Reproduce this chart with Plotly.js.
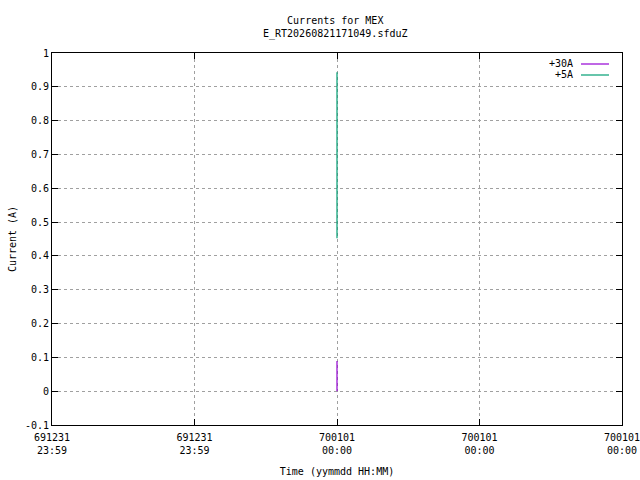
<!DOCTYPE html>
<html><head><meta charset="utf-8">
<script src="https://cdn.plot.ly/plotly-3.0.1.min.js"></script>
<style>html,body{margin:0;padding:0;background:#fff}</style>
</head><body><div id="c" style="width:640px;height:480px"></div>
<script>
// Data (x in minutes relative to 700101 00:00)
const seriesNames = ["+30A", "+5A"];
const seriesColors = ["#9400d3", "#009e73"];
const x30A = [0, 0];
const y30A = [0.0, 0.089];
const x5A = [0, 0];
const y5A = [0.452, 0.943];
const xTickVals = [-2, -1, 0, 1, 2];
const xTickText = ["691231<br>23:59", "691231<br>23:59", "700101<br>00:00", "700101<br>00:00", "700101<br>00:00"];
const yTickVals = [-0.1, 0, 0.1, 0.2, 0.3, 0.4, 0.5, 0.6, 0.7, 0.8, 0.9, 1];
const yTickText = ["-0.1", "0", "0.1", "0.2", "0.3", "0.4", "0.5", "0.6", "0.7", "0.8", "0.9", "1"];

const font = {family: "DejaVu Sans Mono, monospace", size: 10, color: "#000"};
const traces = [
  {x: x30A, y: y30A, mode: "lines", name: seriesNames[0], line: {color: seriesColors[0], width: 1.2}, showlegend: false},
  {x: x5A, y: y5A, mode: "lines", name: seriesNames[1], line: {color: seriesColors[1], width: 1.2}, showlegend: false}
];
const W = 640, H = 480, L = 52, R = 18, T = 53, B = 55;
const pw = W - L - R, ph = H - T - B;
const px = v => (v - L) / pw;
const py = v => 1 - (v - T) / ph;
const legendRows = [64, 75];
const annotations = [
  {text: "Currents for MEX<br>E_RT20260821171049.sfduZ", xref: "paper", yref: "paper", x: px(335), y: py(27), showarrow: false, font: font, xanchor: "center", yanchor: "middle"}
];
const shapes = [];
seriesNames.forEach((n, i) => {
  annotations.push({text: n, xref: "paper", yref: "paper", x: px(575), y: py(legendRows[i]), xanchor: "right", yanchor: "middle", showarrow: false, font: font});
  shapes.push({type: "line", xref: "paper", yref: "paper", x0: px(581), x1: px(609), y0: py(legendRows[i]), y1: py(legendRows[i]), line: {color: seriesColors[i], width: 1.2}});
});
const eps = 1e-6;
const layout = {
  width: W, height: H,
  margin: {l: L, r: R, t: T, b: B},
  paper_bgcolor: "#fff", plot_bgcolor: "#fff",
  font: font,
  showlegend: false,
  xaxis: {
    range: [-2 - eps, 2 + eps], tickvals: xTickVals, ticktext: xTickText,
    ticklabeloverflow: "allow", ticklabelstandoff: 3,
    showgrid: true, gridcolor: "#a0a0a0", griddash: "dot", gridwidth: 1,
    zeroline: false, showline: true, linecolor: "#000", linewidth: 1, mirror: "ticks",
    ticks: "inside", ticklen: 6, tickcolor: "#000",
    title: {text: "Time (yymmdd HH:MM)", font: font, standoff: 12},
    fixedrange: true
  },
  yaxis: {
    range: [-0.1, 1], tickvals: yTickVals, ticktext: yTickText,
    showgrid: true, gridcolor: "#a0a0a0", griddash: "dot", gridwidth: 1,
    zeroline: false, showline: true, linecolor: "#000", linewidth: 1, mirror: "ticks",
    ticks: "inside", ticklen: 6, tickcolor: "#000",
    title: {text: "Current (A)", font: font, standoff: 6},
    fixedrange: true
  },
  annotations: annotations,
  shapes: shapes
};
Plotly.newPlot("c", traces, layout, {staticPlot: true});
</script></body></html>
